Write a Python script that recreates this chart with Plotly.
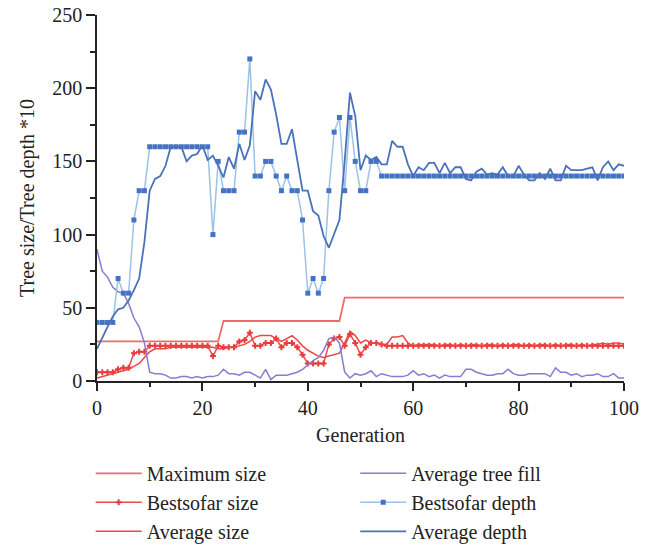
import plotly.graph_objects as go

gens = list(range(0, 101))

max_size = [27] * 24 + [41] * 23 + [57] * 54

best_size = [6, 6, 6, 6, 8, 9, 9, 19, 20, 20] + [24] * 12 + [17, 24, 23, 23, 23, 27, 28, 33,
             24, 24, 26, 26, 29, 23, 26, 26, 23, 18, 12, 12, 12, 12, 25, 29, 30, 24, 32, 26,
             18, 23, 26, 26, 25] + [24] * 46

avg_size = [2, 3, 4, 5, 6, 7, 8, 10, 12, 16, 20, 22, 22, 22, 23, 23, 23, 23, 23, 23,
            23, 23, 23, 22, 22, 23, 23, 24, 25, 27, 30, 31, 31, 31, 29, 27, 29, 31, 28, 24,
            21, 19, 17, 16, 17, 18, 19, 26, 34, 31, 26, 28, 26, 26, 25, 25, 30, 30, 31, 26,
            24, 25, 25, 25, 25, 24, 25, 25, 24, 25, 24, 25, 25, 24, 25, 25, 24, 25, 24, 25,
            25, 24, 25, 24, 25, 25, 24, 25, 24, 25, 25, 24, 25, 24, 25, 25, 26, 25, 26, 26,
            25]

tree_fill = [90, 75, 71, 64, 61, 60, 53, 43, 37, 26, 6, 5, 5, 4, 2, 2, 3, 3, 2, 3,
             2, 3, 3, 4, 8, 5, 5, 4, 6, 6, 4, 2, 8, 1, 4, 4, 4, 5, 6, 8,
             11, 14, 16, 21, 29, 30, 26, 6, 2, 5, 4, 5, 7, 3, 5, 4, 3, 3, 3, 4,
             7, 4, 5, 3, 4, 2, 4, 3, 3, 3, 8, 8, 6, 5, 4, 4, 5, 5, 8, 5,
             4, 4, 5, 5, 5, 5, 3, 9, 6, 6, 4, 5, 3, 4, 4, 5, 3, 3, 5, 2,
             2]

best_depth = [40, 40, 40, 40, 70, 60, 60, 110, 130, 130] + [160] * 12 + [100, 150, 130, 130, 130,
              170, 170, 220, 140, 140, 150, 150, 140, 130, 140, 130, 130, 110, 60, 70, 60, 70,
              130, 170, 180, 130, 180, 150, 130, 130, 150, 150] + [140] * 47

avg_depth = [22, 30, 37, 44, 49, 50, 55, 62, 70, 95, 130, 138, 140, 147, 160, 160, 160, 150, 154, 155,
             161, 151, 154, 147, 139, 153, 145, 162, 151, 161, 198, 192, 206, 199, 182, 162, 162, 172, 151, 130,
             130, 116, 113, 99, 91, 100, 110, 150, 197, 181, 144, 154, 151, 153, 148, 148, 164, 160, 160, 148,
             140, 146, 144, 149, 149, 142, 149, 142, 146, 146, 138, 137, 143, 145, 141, 142, 141, 146, 140, 140,
             147, 141, 137, 137, 142, 138, 145, 137, 137, 147, 144, 144, 144, 145, 146, 137, 146, 150, 144, 148,
             147]

FONT = "Liberation Serif"

fig = go.Figure()
fig.add_trace(go.Scatter(x=gens, y=max_size, name="Maximum size", mode="lines",
                         line=dict(color="#f26a6a", width=1.8), legend="legend", legendrank=1))
fig.add_trace(go.Scatter(x=gens, y=best_size, name="Bestsofar size", mode="lines+markers",
                         line=dict(color="#ec4b4b", width=1.5),
                         marker=dict(symbol="cross", size=5, color="#e83c3c"),
                         legend="legend", legendrank=2))
fig.add_trace(go.Scatter(x=gens, y=avg_size, name="Average size", mode="lines",
                         line=dict(color="#ee4444", width=1.5), legend="legend", legendrank=3))
fig.add_trace(go.Scatter(x=gens, y=tree_fill, name="Average tree fill", mode="lines",
                         line=dict(color="#8a7ad2", width=1.5), legend="legend2", legendrank=1))
fig.add_trace(go.Scatter(x=gens, y=best_depth, name="Bestsofar depth", mode="lines+markers",
                         line=dict(color="#9cc2e8", width=1.5),
                         marker=dict(symbol="square", size=5, color="#4472c4"),
                         legend="legend2", legendrank=2))
fig.add_trace(go.Scatter(x=gens, y=avg_depth, name="Average depth", mode="lines",
                         line=dict(color="#4a72b8", width=1.8), legend="legend2", legendrank=3))

legend_common = dict(orientation="v", xanchor="left", yanchor="top",
                     font=dict(family=FONT, size=20, color="#222"),
                     bgcolor="rgba(0,0,0,0)", itemwidth=46, tracegroupgap=0)

fig.update_layout(
    width=669, height=545,
    margin=dict(l=97, r=45, t=15, b=164, autoexpand=False),
    paper_bgcolor="white", plot_bgcolor="white",
    font=dict(family=FONT, size=20, color="#222"),
    showlegend=True,
    legend=dict(x=-0.012, y=-0.199, **legend_common),
    legend2=dict(x=0.49, y=-0.199, **legend_common),
    xaxis=dict(range=[0, 100], dtick=20, tick0=0, showline=True, linecolor="#222", linewidth=1.5,
               ticks="outside", ticklen=8, tickwidth=1.5, tickcolor="#222", showgrid=False,
               zeroline=False, tickfont=dict(family=FONT, size=20),
               minor=dict(dtick=10, ticks="outside", ticklen=4, tickwidth=1.5, tickcolor="#222", showgrid=False),
               title=dict(text="Generation", font=dict(family=FONT, size=20), standoff=10)),
    yaxis=dict(range=[0, 250], dtick=50, tick0=0, showline=True, linecolor="#222", linewidth=1.5,
               ticks="outside", ticklen=9, tickwidth=1.5, tickcolor="#222", showgrid=False,
               zeroline=False, tickfont=dict(family=FONT, size=20),
               minor=dict(dtick=25, ticks="outside", ticklen=5, tickwidth=1.5, tickcolor="#222", showgrid=False),
               title=dict(text="Tree size/Tree depth *10", font=dict(family=FONT, size=20), standoff=12)),
)

fig.write_html("out.html")
